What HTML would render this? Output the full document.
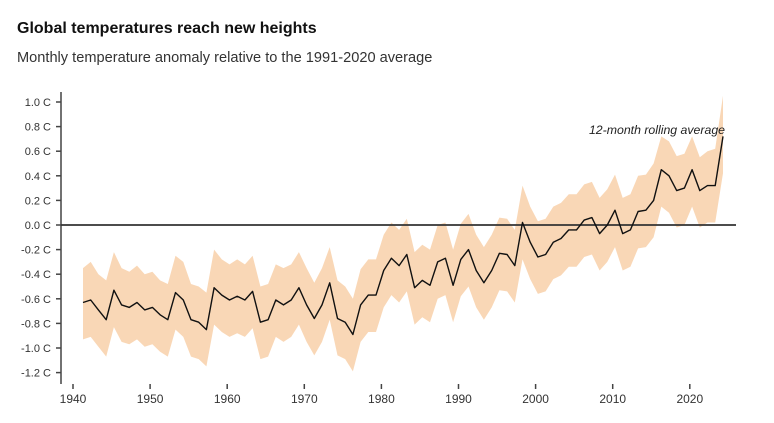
<!DOCTYPE html>
<html><head><meta charset="utf-8">
<style>
body{margin:0;background:#fff;width:774px;height:423px;overflow:hidden;font-family:"Liberation Sans",sans-serif}
#t{position:absolute;left:17px;top:20px;font-size:16px;font-weight:bold;color:#111}
#s{position:absolute;left:17px;top:50px;font-size:14.6px;color:#333}
svg{position:absolute;left:0;top:0}
</style></head><body>
<div id="t">Global temperatures reach new heights</div>
<div id="s">Monthly temperature anomaly relative to the 1991-2020 average</div>
<svg id="c" width="774" height="423"></svg>
<script>
const startYear = 1941;
const rollingAvg = [-0.63,-0.61,-0.69,-0.77,-0.53,-0.65,-0.67,-0.63,-0.69,-0.67,
-0.73,-0.77,-0.55,-0.61,-0.77,-0.79,-0.85,-0.51,-0.57,-0.61,
-0.58,-0.61,-0.54,-0.79,-0.77,-0.61,-0.65,-0.61,-0.51,-0.65,
-0.76,-0.65,-0.47,-0.76,-0.79,-0.89,-0.65,-0.57,-0.57,-0.37,
-0.27,-0.33,-0.24,-0.51,-0.45,-0.49,-0.30,-0.27,-0.49,-0.28,
-0.20,-0.37,-0.47,-0.37,-0.23,-0.24,-0.33,0.02,-0.14,-0.26,
-0.24,-0.14,-0.11,-0.04,-0.04,0.04,0.06,-0.07,0.00,0.12,
-0.07,-0.04,0.11,0.12,0.20,0.45,0.40,0.28,0.30,0.45,
0.28,0.32,0.32,0.72];
const dailyHigh = [-0.35,-0.30,-0.40,-0.45,-0.22,-0.35,-0.38,-0.33,-0.40,-0.38,
-0.45,-0.48,-0.25,-0.30,-0.48,-0.50,-0.55,-0.20,-0.28,-0.32,
-0.28,-0.32,-0.25,-0.50,-0.48,-0.32,-0.35,-0.32,-0.22,-0.35,
-0.47,-0.35,-0.18,-0.45,-0.50,-0.60,-0.36,-0.28,-0.28,-0.08,
0.02,-0.04,0.05,-0.22,-0.16,-0.20,0.00,0.02,-0.20,0.01,
0.09,-0.08,-0.18,-0.08,0.06,0.05,-0.04,0.32,0.15,0.03,
0.05,0.15,0.18,0.25,0.25,0.33,0.35,0.22,0.29,0.41,
0.22,0.25,0.40,0.41,0.50,0.72,0.68,0.56,0.58,0.72,
0.55,0.60,0.62,1.05];
const dailyLow = [-0.93,-0.91,-0.99,-1.07,-0.83,-0.95,-0.97,-0.93,-0.99,-0.97,
-1.03,-1.07,-0.85,-0.91,-1.07,-1.09,-1.15,-0.81,-0.87,-0.91,
-0.88,-0.91,-0.84,-1.09,-1.07,-0.91,-0.95,-0.91,-0.81,-0.95,
-1.06,-0.95,-0.77,-1.06,-1.09,-1.19,-0.95,-0.87,-0.87,-0.67,
-0.57,-0.63,-0.54,-0.81,-0.75,-0.79,-0.60,-0.57,-0.79,-0.58,
-0.50,-0.67,-0.77,-0.67,-0.53,-0.54,-0.63,-0.28,-0.44,-0.56,
-0.54,-0.44,-0.41,-0.34,-0.34,-0.26,-0.24,-0.37,-0.30,-0.18,
-0.37,-0.34,-0.19,-0.18,-0.10,0.15,0.10,-0.02,0.00,0.15,
-0.02,0.02,0.02,0.42];
const yTicks = [1.0,0.8,0.6,0.4,0.2,0.0,-0.2,-0.4,-0.6,-0.8,-1.0,-1.2];
const xTicks = [1940,1950,1960,1970,1980,1990,2000,2010,2020];

const NS="http://www.w3.org/2000/svg", svgEl=document.getElementById('c');
const X = yr => 73 + (yr-1940)*7.71;
const Y = v => 225 - v*123;
function mk(tag, attrs){const e=document.createElementNS(NS,tag);for(const k in attrs)e.setAttribute(k,attrs[k]);svgEl.appendChild(e);return e;}

// scatter band
const upperPts=[], lowerPts=[];
rollingAvg.forEach((v,i)=>{const x=X(startYear+i+0.3);upperPts.push(x.toFixed(1)+','+Y(dailyHigh[i]).toFixed(1));lowerPts.unshift(x.toFixed(1)+','+Y(dailyLow[i]).toFixed(1));});
const band=mk('polygon',{points:upperPts.concat(lowerPts).join(' '),fill:'#f0a050','fill-opacity':'0.42'});



// axes
const ya=mk('line',{x1:61,y1:92,x2:61,y2:384,stroke:'#444','stroke-width':1.5});


yTicks.forEach(v=>{
  const y=Y(v);
  const tk=mk('line',{x1:56,y1:y,x2:61,y2:y,stroke:'#444','stroke-width':1.5});
  
  
  const t=mk('text',{x:51,y:y+4,'text-anchor':'end','font-size':11,fill:'#333','font-family':'Liberation Sans, sans-serif'});
  t.textContent=(v<0?'-':'')+Math.abs(v).toFixed(1)+' C';
  
  
});
xTicks.forEach(yr=>{
  const x=X(yr);
  const tk=mk('line',{x1:x,y1:384,x2:x,y2:389,stroke:'#444','stroke-width':1.5});
  
  
  const t=mk('text',{x:x,y:403,'text-anchor':'middle','font-size':12,fill:'#333','font-family':'Liberation Sans, sans-serif'});
  t.textContent=yr;
  
  
});
const z=mk('line',{x1:61,y1:Y(0),x2:736,y2:Y(0),stroke:'#333','stroke-width':1.8});



// rolling avg
const pts=rollingAvg.map((v,i)=>X(startYear+i+0.3).toFixed(1)+','+Y(v).toFixed(1)).join(' ');
const ln=mk('polyline',{points:pts,fill:'none',stroke:'#111','stroke-width':1.4,'stroke-linejoin':'round'});


const lb=mk('text',{x:725,y:134,'text-anchor':'end','font-size':12.3,'font-style':'italic',fill:'#222','font-family':'Liberation Sans, sans-serif'});
lb.textContent='12-month rolling average';


</script>
</body></html>
